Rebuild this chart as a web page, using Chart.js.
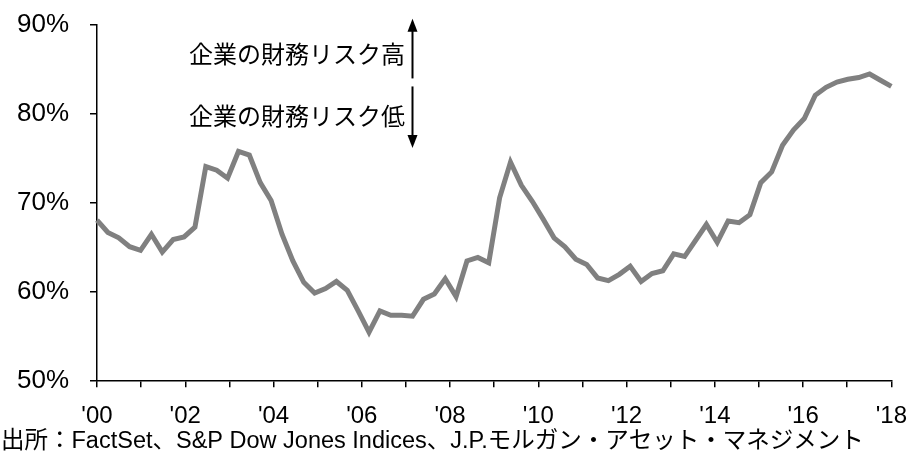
<!DOCTYPE html>
<html lang="ja">
<head>
<meta charset="utf-8">
<title>企業の財務リスク</title>
<script src="https://cdn.jsdelivr.net/npm/chart.js@4.4.1/dist/chart.umd.min.js"></script>
<style>
  html, body { margin: 0; padding: 0; background: #fff; }
  #wrap { width: 922px; height: 459px; position: relative; }
</style>
</head>
<body>
<div id="wrap"><canvas id="chart" width="922" height="459"></canvas></div>
<script>
// Quarterly ratio (%), 2000 Q1 – 2018 Q2
const ratio = [
  68.1, 66.7, 66.1, 65.1, 64.7, 66.5, 64.5, 65.9, 66.2, 67.3,
  74.1, 73.7, 72.8, 75.8, 75.4, 72.3, 70.3, 66.5, 63.5, 61.1,
  59.9, 60.4, 61.2, 60.2, 57.9, 55.5, 57.9, 57.4, 57.4, 57.3,
  59.2, 59.8, 61.5, 59.5, 63.5, 63.9, 63.3, 70.6, 74.6, 72.0,
  70.2, 68.2, 66.1, 65.1, 63.7, 63.1, 61.6, 61.3, 62.0, 62.9,
  61.2, 62.1, 62.4, 64.3, 64.0, 65.8, 67.6, 65.6, 68.0, 67.8,
  68.7, 72.3, 73.5, 76.5, 78.2, 79.5, 82.1, 83.0, 83.6, 83.9,
  84.1, 84.5, 83.8, 83.1
];

// Quarter labels for the category axis
const quarters = [];
for (let y = 2000; quarters.length < ratio.length; y++) {
  for (let q = 1; q <= 4 && quarters.length < ratio.length; q++) {
    quarters.push(y + 'Q' + q);
  }
}

// Year axis: tick every year, label every other year
const yearStart = 2000;
const yearEnd = 2018;
const yearLabels = {
  2000: "'00", 2002: "'02", 2004: "'04", 2006: "'06", 2008: "'08",
  2010: "'10", 2012: "'12", 2014: "'14", 2016: "'16", 2018: "'18"
};
const yTicks = [50, 60, 70, 80, 90];

const noteHigh = '企業の財務リスク高';
const noteLow = '企業の財務リスク低';
const sourceText = '出所：FactSet、S&P Dow Jones Indices、J.P.モルガン・アセット・マネジメント';

const latin = 'Arial, "Liberation Sans", sans-serif';
const mixed = 'Arial, "Liberation Sans", "Noto Sans CJK JP", sans-serif';
const cjk = '"Noto Sans CJK JP", sans-serif';

// Risk direction labels with arrows, plus the source line
const notes = {
  id: 'notes',
  afterDraw(chart) {
    const { ctx } = chart;
    const ys = chart.scales.y;
    const ax = 412.5;
    ctx.save();
    ctx.fillStyle = '#000';
    ctx.strokeStyle = '#000';
    ctx.font = '24px ' + cjk;
    ctx.textAlign = 'right';
    ctx.textBaseline = 'middle';
    ctx.fillText(noteHigh, 405, ys.getPixelForValue(86.8));
    ctx.fillText(noteLow, 405, ys.getPixelForValue(79.8));

    const arrow = (y0, y1) => {
      const dir = Math.sign(y1 - y0);
      ctx.lineWidth = 2;
      ctx.beginPath();
      ctx.moveTo(ax, y0);
      ctx.lineTo(ax, y1 - dir * 10);
      ctx.stroke();
      ctx.beginPath();
      ctx.moveTo(ax, y1);
      ctx.lineTo(ax - 5, y1 - dir * 13);
      ctx.lineTo(ax + 5, y1 - dir * 13);
      ctx.closePath();
      ctx.fill();
    };
    arrow(ys.getPixelForValue(84.0), ys.getPixelForValue(90.7));
    arrow(ys.getPixelForValue(83.1), ys.getPixelForValue(76.2));

    ctx.font = '23.5px ' + mixed;
    ctx.textAlign = 'left';
    ctx.fillText(sourceText, 1, 442);
    ctx.restore();
  }
};

new Chart(document.getElementById('chart'), {
  type: 'line',
  data: {
    labels: quarters,
    datasets: [{
      data: ratio,
      borderColor: '#808080',
      borderWidth: 5,
      pointRadius: 0,
      tension: 0,
      fill: false
    }]
  },
  options: {
    responsive: false,
    animation: false,
    events: [],
    layout: { padding: { left: 17, right: 23, top: 25, bottom: 13 } },
    plugins: { legend: { display: false }, tooltip: { enabled: false } },
    scales: {
      x: { display: false, offset: false },
      year: {
        type: 'linear',
        position: 'bottom',
        min: yearStart,
        max: yearEnd,
        grid: { drawOnChartArea: false, drawTicks: true, tickLength: 6, color: '#000', lineWidth: 1.5 },
        border: { display: true, color: '#000', width: 1.5 },
        ticks: {
          stepSize: 1,
          autoSkip: false,
          maxRotation: 0,
          padding: 15,
          color: '#000',
          font: { family: latin, size: 24 },
          callback: v => yearLabels[v] || ''
        }
      },
      y: {
        min: 50,
        max: 90,
        afterBuildTicks: s => { s.ticks = yTicks.map(v => ({ value: v })); },
        afterFit: s => { s.width = 80; },
        grid: { drawOnChartArea: false, drawTicks: true, tickLength: 7, color: '#000', lineWidth: 1.5 },
        border: { display: true, color: '#000', width: 1.5 },
        ticks: {
          padding: 4,
          crossAlign: 'far',
          color: '#000',
          font: { family: latin, size: 26 },
          callback: v => v + '%'
        }
      }
    }
  },
  plugins: [notes]
});
</script>
</body>
</html>
